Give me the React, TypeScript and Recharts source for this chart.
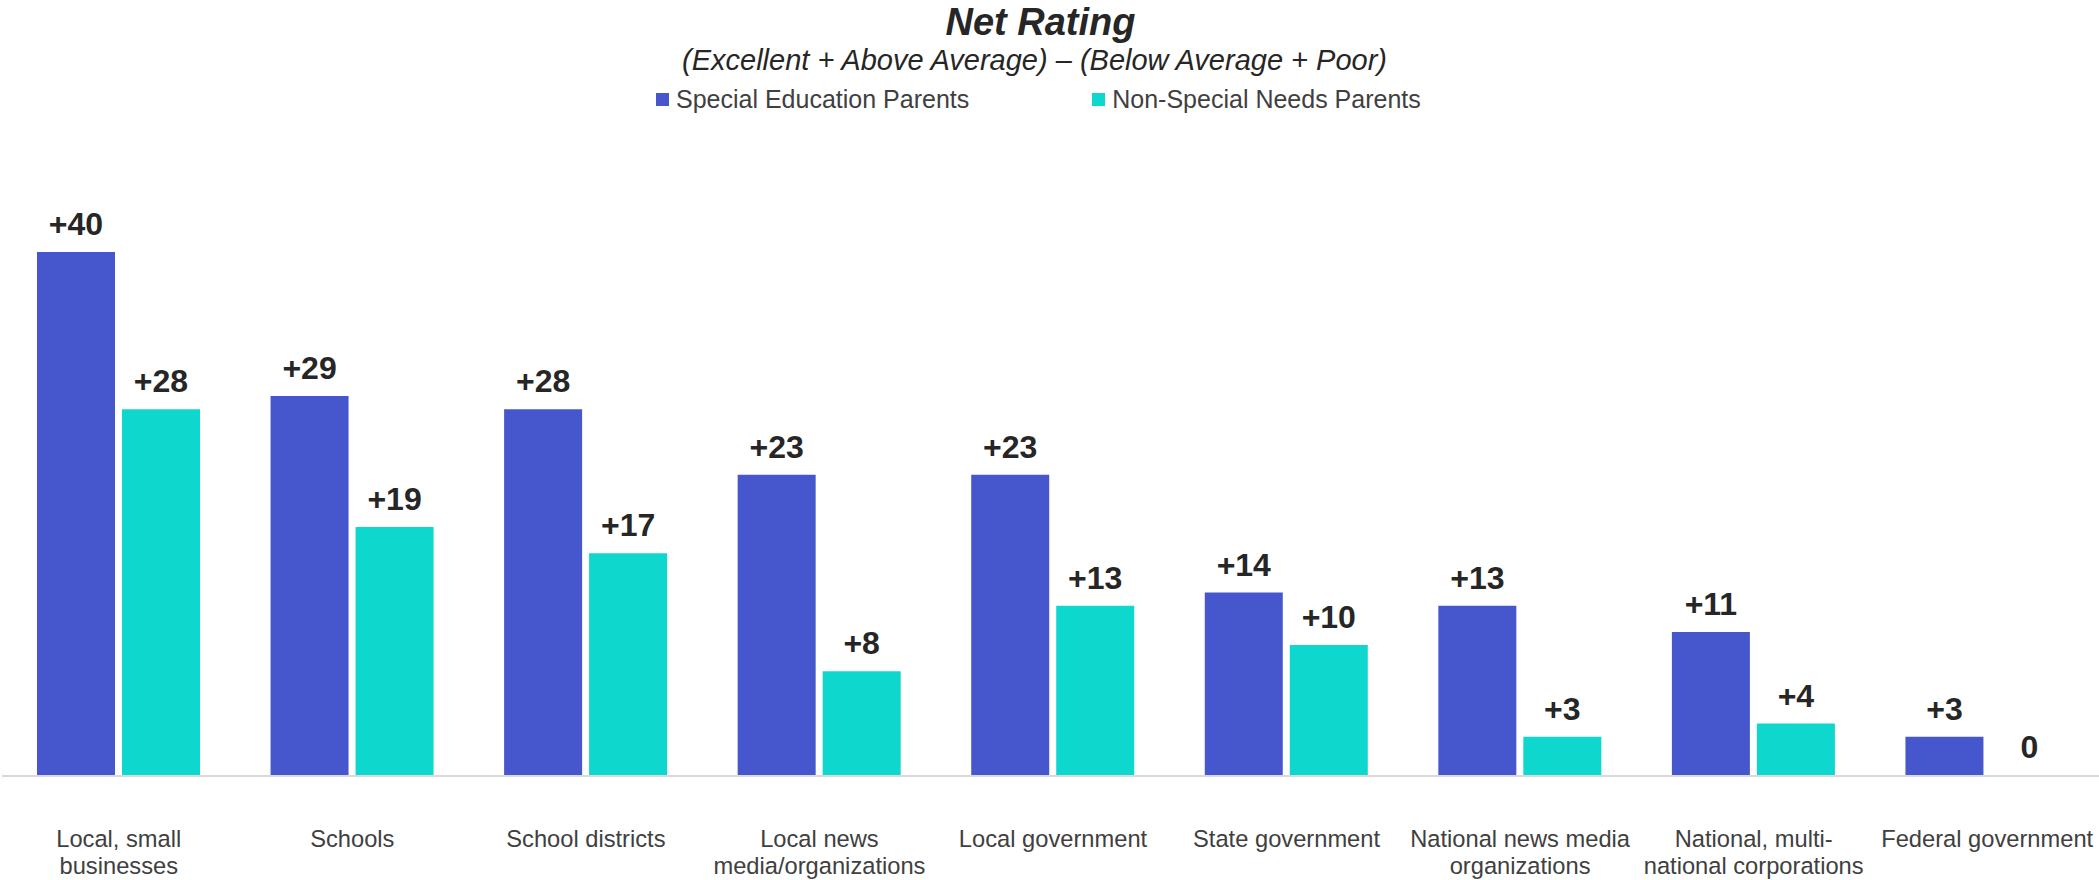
import React from "react";
import { BarChart, Bar, XAxis, YAxis, LabelList, Cell } from "recharts";

const categories = [
  "Local, small\nbusinesses",
  "Schools",
  "School districts",
  "Local news\nmedia/organizations",
  "Local government",
  "State government",
  "National news media\norganizations",
  "National, multi-\nnational corporations",
  "Federal government",
];
const specialEd = [40, 29, 28, 23, 23, 14, 13, 11, 3];
const nonSpecial = [28, 19, 17, 8, 13, 10, 3, 4, 0];

const BLUE = "#4657CD";
const CYAN = "#0ED8CE";
const FONT = "'Liberation Sans', Arial, sans-serif";

const data = categories.map((name, i) => ({
  name,
  special: specialEd[i],
  non: nonSpecial[i],
}));

const fmt = (v: any) => (Number(v) > 0 ? `+${v}` : `${v}`);

function CategoryTick(props: any) {
  const { x, y, payload } = props;
  const lines = String(payload.value).split("\n");
  return (
    <text x={x} y={y + 63} textAnchor="middle" fill="#404040" fontSize={23.7} fontFamily={FONT}>
      {lines.map((l, i) => (
        <tspan key={i} x={x} dy={i === 0 ? 0 : 27}>
          {l}
        </tspan>
      ))}
    </text>
  );
}

function ValueLabel(props: any) {
  const { x, y, width, value } = props;
  return (
    <text
      x={Number(x) + Number(width) / 2}
      y={Number(y) - 17}
      textAnchor="middle"
      fill="#262626"
      fontSize={32}
      fontWeight="bold"
      fontFamily={FONT}
    >
      {fmt(value)}
    </text>
  );
}

export default function App() {
  return (
    <div style={{ position: "relative", width: 2099, height: 880, fontFamily: FONT, background: "#fff", overflow: "hidden" }}>
      <style>{"body{margin:0}"}</style>
      <div
        style={{
          position: "absolute",
          top: 0,
          left: -9,
          width: 2099,
          textAlign: "center",
          fontSize: 38,
          fontWeight: "bold",
          fontStyle: "italic",
          color: "#262626",
          lineHeight: "44px",
        }}
      >
        Net Rating
      </div>
      <div
        style={{
          position: "absolute",
          top: 44,
          left: -15,
          width: 2099,
          textAlign: "center",
          fontSize: 29,
          fontStyle: "italic",
          color: "#262626",
          lineHeight: "32px",
        }}
      >
        (Excellent + Above Average) – (Below Average + Poor)
      </div>
      <div
        style={{
          position: "absolute",
          top: 85,
          left: 656,
          display: "flex",
          gap: 123,
          fontSize: 25,
          color: "#404040",
          lineHeight: "28px",
        }}
      >
        {[
          { label: "Special Education Parents", color: BLUE },
          { label: "Non-Special Needs Parents", color: CYAN },
        ].map((item) => (
          <div key={item.label} style={{ display: "flex", alignItems: "center" }}>
            <span style={{ width: 13, height: 13, background: item.color, marginRight: 7, display: "inline-block" }} />
            <span>{item.label}</span>
          </div>
        ))}
      </div>
      <div style={{ position: "absolute", top: 0, left: 0 }}>
        <BarChart
          width={2104}
          height={880}
          data={data}
          margin={{ top: 252, right: 0, left: 2, bottom: 0 }}
          barSize={78}
          barGap={7}
        >
          <XAxis
            dataKey="name"
            axisLine={{ stroke: "#d9d9d9", strokeWidth: 2 }}
            tickLine={false}
            interval={0}
            height={104}
            tick={<CategoryTick />}
          />
          <YAxis hide domain={[0, 40]} />
          <Bar dataKey="special" fill={BLUE} isAnimationActive={false}>
            <LabelList dataKey="special" content={<ValueLabel />} />
          </Bar>
          <Bar
            dataKey="non"
            fill={CYAN}
            isAnimationActive={false}
            minPointSize={(v: any) => (Number(v) === 0 ? 1 : 0)}
          >
            {nonSpecial.map((v, i) => (
              <Cell key={i} fill={v === 0 ? "transparent" : CYAN} />
            ))}
            <LabelList dataKey="non" content={<ValueLabel />} />
          </Bar>
        </BarChart>
      </div>
    </div>
  );
}
